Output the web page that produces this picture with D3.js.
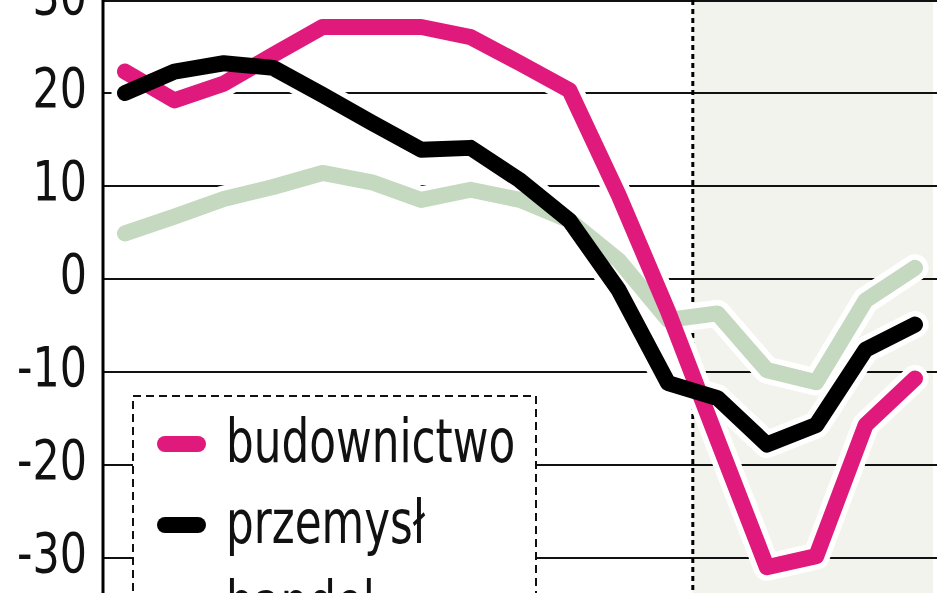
<!DOCTYPE html>
<html>
<head>
<meta charset="utf-8">
<script src="https://cdn.jsdelivr.net/npm/d3@7"></script>
<style>
  html, body { margin: 0; padding: 0; background: #fff; overflow: hidden; }
  svg { display: block; }
  text { font-family: "DejaVu Sans Condensed", "DejaVu Sans", sans-serif; fill: #111; }
</style>
</head>
<body>
<svg id="chart"></svg>
<script>
// data (17 periods, forecast after the dotted line)
const periods = ["1", "2", "3", "4", "5", "6", "7", "8", "9", "10", "11", "12", "13", "14", "15", "16", "17"]
const budownictwo = [22.3, 19.2, 21.0, 24.1, 27.1, 27.1, 27.1, 26.0, 23.2, 20.3, 9.0, -3.5, -17.3, -31.0, -29.8, -15.7, -10.7]
const przemysl = [20.0, 22.3, 23.2, 22.7, 19.8, 16.8, 13.9, 14.1, 10.6, 6.3, -1.2, -11.2, -12.8, -17.8, -15.7, -7.6, -4.9]
const handel = [4.9, 6.7, 8.6, 9.9, 11.4, 10.4, 8.5, 9.6, 8.5, 6.3, 2.0, -4.4, -3.7, -9.8, -11.1, -2.3, 1.2]
const seriesNames = ["budownictwo", "przemysł", "handel"]
const seriesColors = ["#e0197c", "#000000", "#c4d9bf"]
const yTicks = [30, 20, 10, 0, -10, -20, -30]
const forecastFrom = 11.5 // index where the shaded part starts

const width = 948
const height = 593
const margin = { left: 103, right: 11, top: 0 }

// the original type is a condensed face, squeeze DejaVu Condensed a bit more
const squeezeTicks = 0.85
const squeezeLegend = 0.81

const svg = d3.select('svg#chart').attr('width', width).attr('height', height)

const x = d3.scalePoint().domain(periods).range([125, 915])
const y = d3.scaleLinear().domain([-30, 30]).range([558, 0])

const xForecast = x(periods[0]) + forecastFrom * x.step()

// shaded forecast area
svg.append('rect')
    .attr('x', xForecast)
    .attr('y', 0)
    .attr('width', 933 - xForecast)
    .attr('height', height)
    .attr('fill', '#f3f3ee')

// gridlines
svg.append('g').selectAll('line').data(yTicks).enter().append('line')
    .attr('x1', margin.left)
    .attr('x2', width - margin.right)
    .attr('y1', d => y(d) + (d === 30 ? 1 : 0))
    .attr('y2', d => y(d) + (d === 30 ? 1 : 0))
    .attr('stroke', '#111')
    .attr('stroke-width', 2)

// tick labels
svg.append('g').selectAll('text').data(yTicks).enter().append('text')
    .attr('transform', d => 'translate(87,' + (y(d) + 14) + ') scale(' + squeezeTicks + ',1)')
    .attr('text-anchor', 'end')
    .attr('font-size', 56)
    .text(d => d)

// dotted line
svg.append('line')
    .attr('x1', xForecast).attr('x2', xForecast)
    .attr('y1', 0).attr('y2', height)
    .attr('stroke', '#000')
    .attr('stroke-width', 3)
    .attr('stroke-dasharray', '5,4')

// y axis
svg.append('line')
    .attr('x1', margin.left).attr('x2', margin.left)
    .attr('y1', 0).attr('y2', height)
    .attr('stroke', '#000')
    .attr('stroke-width', 3)

const allSeries = [handel, budownictwo, przemysl]
const allColors = [seriesColors[2], seriesColors[0], seriesColors[1]]

const line = d3.line()
    .x((d, i) => x(periods[i]))
    .y(d => y(d))

// white halos first, then the coloured lines
svg.append('g').selectAll('path').data(allSeries).enter().append('path')
    .attr('d', line)
    .attr('fill', 'none')
    .attr('stroke', '#fff')
    .attr('stroke-width', 27)
    .attr('stroke-linejoin', 'round')
    .attr('stroke-linecap', 'round')

svg.append('g').selectAll('path').data(allSeries).enter().append('path')
    .attr('d', line)
    .attr('fill', 'none')
    .attr('stroke', (d, i) => allColors[i])
    .attr('stroke-width', 16)
    .attr('stroke-linejoin', 'round')
    .attr('stroke-linecap', 'round')

// legend
const legend = svg.append('g')
legend.append('rect')
    .attr('x', 133).attr('y', 396)
    .attr('width', 403).attr('height', 260)
    .attr('fill', '#fff')
    .attr('stroke', '#111')
    .attr('stroke-width', 2)
    .attr('stroke-dasharray', '8,5')

const rows = legend.selectAll('g.row').data(seriesNames).enter().append('g')
    .attr('class', 'row')
    .attr('transform', (d, i) => 'translate(0,' + (462 + i * 81) + ')')

rows.append('line')
    .attr('x1', 165).attr('x2', 198)
    .attr('y1', -18).attr('y2', -18)
    .attr('stroke', (d, i) => seriesColors[i])
    .attr('stroke-width', 16)
    .attr('stroke-linecap', 'round')

rows.append('text')
    .attr('transform', 'translate(226,0) scale(' + squeezeLegend + ',1)')
    .attr('font-size', 60)
    .text(d => d)
</script>
</body>
</html>
